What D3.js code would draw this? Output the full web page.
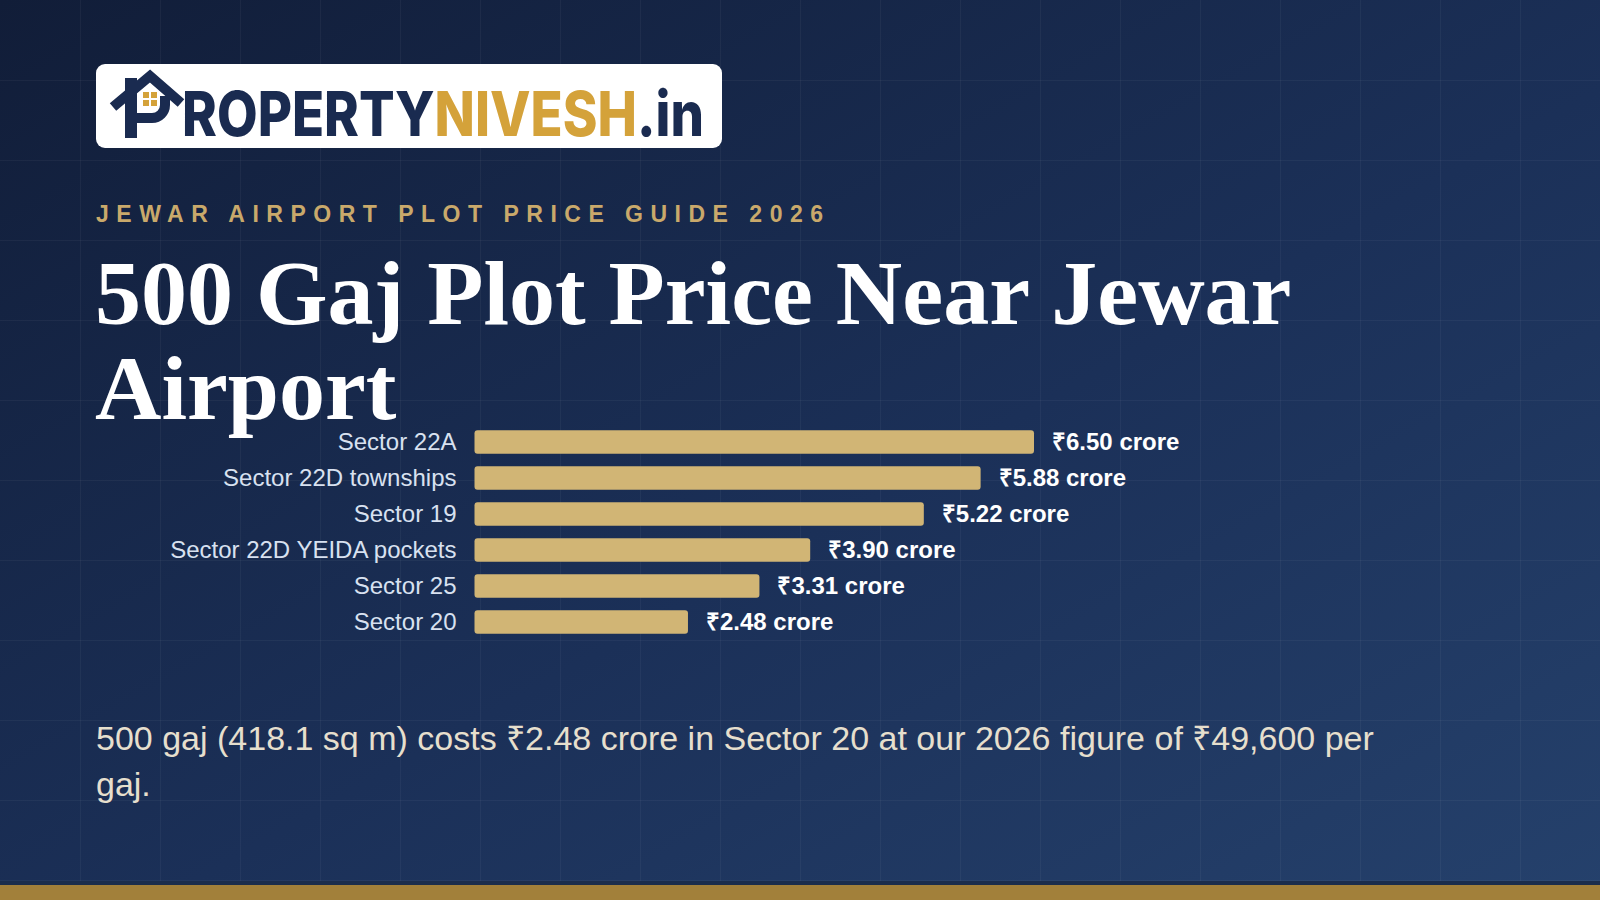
<!DOCTYPE html>
<html>
<head>
<meta charset="utf-8">
<script src="https://cdn.jsdelivr.net/npm/d3@7"></script>
<style>
  html, body { margin: 0; padding: 0; background: #14223f; }
  svg { display: block; }
</style>
</head>
<body>
<div id="chart"></div>
<script>
// data
var sectors = ["Sector 22A", "Sector 22D townships", "Sector 19", "Sector 22D YEIDA pockets", "Sector 25", "Sector 20"];
var prices = [6.50, 5.88, 5.22, 3.90, 3.31, 2.48];   // crore, for 500 gaj
var kicker = "JEWAR AIRPORT PLOT PRICE GUIDE 2026";
var titleLines = ["500 Gaj Plot Price Near Jewar", "Airport"];
var noteLines = ["500 gaj (418.1 sq m) costs ₹2.48 crore in Sector 20 at our 2026 figure of ₹49,600 per", "gaj."];
var logoParts = ["ROPERTY", "NIVESH", ".in"];

var W = 1600, H = 900;

var svg = d3.select("#chart").append("svg")
    .attr("width", W)
    .attr("height", H);

var defs = svg.append("defs");
var grad = defs.append("linearGradient")
    .attr("id", "bg")
    .attr("x1", 0).attr("y1", 0).attr("x2", 1).attr("y2", 1);
grad.append("stop").attr("offset", "0%").attr("stop-color", "#111d38");
grad.append("stop").attr("offset", "55%").attr("stop-color", "#1b3058");
grad.append("stop").attr("offset", "100%").attr("stop-color", "#25416c");

svg.append("rect").attr("width", W).attr("height", H).attr("fill", "url(#bg)");

// faint grid
var grid = svg.append("g").attr("stroke", "rgba(255,255,255,0.045)").attr("stroke-width", 1);
grid.selectAll("line.v").data(d3.range(80, W, 80)).enter().append("line")
    .attr("x1", d => d + 0.5).attr("x2", d => d + 0.5).attr("y1", 0).attr("y2", H);
grid.selectAll("line.h").data(d3.range(80, H, 80)).enter().append("line")
    .attr("y1", d => d + 0.5).attr("y2", d => d + 0.5).attr("x1", 0).attr("x2", W);

// bottom gold band
svg.append("rect").attr("x", 0).attr("y", 881).attr("width", W).attr("height", 4).attr("fill", "#1b2d4c");
svg.append("rect").attr("x", 0).attr("y", 885).attr("width", W).attr("height", 15).attr("fill", "#a2803a");

// logo
var logo = svg.append("g");
logo.append("rect")
    .attr("x", 96).attr("y", 64).attr("width", 626).attr("height", 84)
    .attr("rx", 9).attr("fill", "#ffffff");

var navy = "#1a2b50", gold = "#d4a23a";
// house-shaped P
logo.append("rect").attr("x", 125).attr("y", 78).attr("width", 12).attr("height", 60).attr("fill", navy);
logo.append("path")
    .attr("d", "M113,107 L150,76 L181,103")
    .attr("fill", "none").attr("stroke", navy).attr("stroke-width", 10);
logo.append("path")
    .attr("d", "M131,118 H152 A13,13 0 0 0 165,105 V96")
    .attr("fill", "none").attr("stroke", navy).attr("stroke-width", 10);
[[143, 92], [151, 92], [143, 100], [151, 100]].forEach(function(p) {
  logo.append("rect").attr("x", p[0]).attr("y", p[1]).attr("width", 6).attr("height", 6).attr("fill", gold);
});

// wordmark, squeezed horizontally to the logo width
var logoFill = [navy, gold, navy];
var word = logo.append("g");
var wordText = word.append("text")
    .style("font-family", "Inter, 'Open Sans', sans-serif")
    .style("font-weight", 800)
    .style("font-size", "62px");
wordText.selectAll("tspan").data(logoParts).enter().append("tspan")
    .attr("fill", (d, i) => logoFill[i])
    .text(d => d);
var natural = wordText.node().getComputedTextLength();
word.attr("transform", "translate(182,136) scale(" + (522 / natural) + ",1)");

// kicker
svg.append("text")
    .attr("x", 96).attr("y", 222)
    .attr("fill", "#c9a96b")
    .style("font-family", "'Liberation Sans', Arial, sans-serif")
    .style("font-weight", 700)
    .style("font-size", "23px")
    .style("letter-spacing", "7.5px")
    .text(kicker);

// title
svg.append("g").selectAll("text").data(titleLines).enter().append("text")
    .attr("x", 95)
    .attr("y", (d, i) => 324 + i * 95)
    .attr("fill", "#ffffff")
    .style("font-family", "'Liberation Serif', 'Times New Roman', serif")
    .style("font-weight", 700)
    .style("font-size", "92px")
    .text(d => d);

// bars
var x = d3.scaleLinear()
    .domain([0, d3.max(prices)])
    .range([474.5, 1034]);

var y = d3.scaleBand()
    .domain(sectors)
    .range([424, 640])
    .paddingInner(0.35)
    .paddingOuter(0.175);

var rows = svg.append("g").selectAll("g").data(sectors).enter().append("g");

rows.append("rect")
    .attr("x", x(0))
    .attr("y", d => y(d))
    .attr("width", (d, i) => x(prices[i]) - x(0))
    .attr("height", y.bandwidth())
    .attr("rx", 3)
    .attr("fill", "#d1b575");

rows.append("text")
    .attr("x", x(0) - 18)
    .attr("y", d => y(d) + y.bandwidth() / 2)
    .attr("dy", "0.35em")
    .attr("text-anchor", "end")
    .attr("fill", "#d8e1f0")
    .style("font-family", "'Liberation Sans', Arial, sans-serif")
    .style("font-size", "24px")
    .text(d => d);

rows.append("text")
    .attr("x", (d, i) => x(prices[i]) + 18)
    .attr("y", d => y(d) + y.bandwidth() / 2)
    .attr("dy", "0.35em")
    .attr("fill", "#ffffff")
    .style("font-family", "'Liberation Sans', Arial, sans-serif")
    .style("font-weight", 700)
    .style("font-size", "24px")
    .text((d, i) => "₹" + d3.format(".2f")(prices[i]) + " crore");

// note
svg.append("g").selectAll("text").data(noteLines).enter().append("text")
    .attr("x", 96)
    .attr("y", (d, i) => 750 + i * 46)
    .attr("fill", "#e6dfcd")
    .style("font-family", "'Liberation Sans', Arial, sans-serif")
    .style("font-size", "34px")
    .text(d => d);
</script>
</body>
</html>
